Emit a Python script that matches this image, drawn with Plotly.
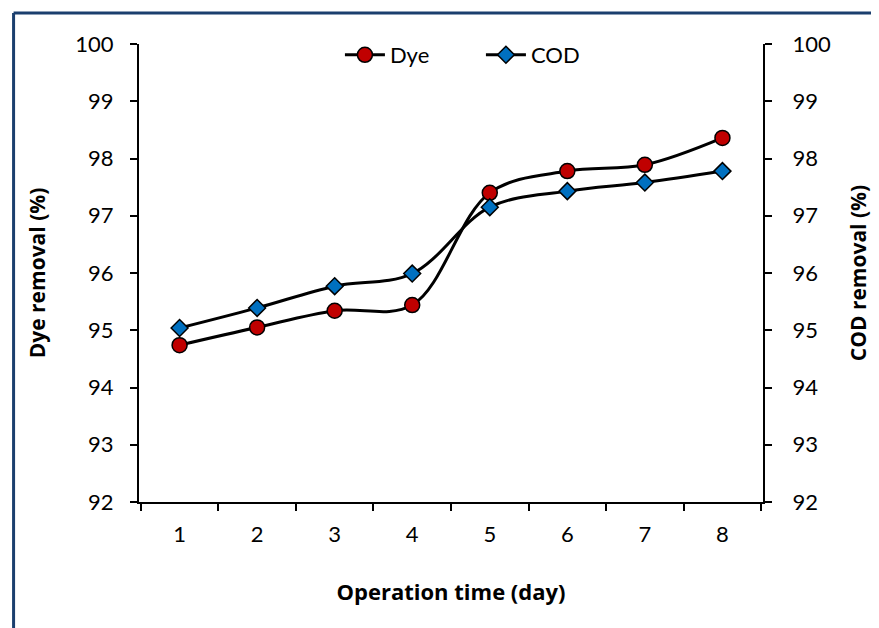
import plotly.graph_objects as go

days = ["1", "2", "3", "4", "5", "6", "7", "8"]
dye_removal = [94.74, 95.05, 95.34, 95.44, 97.40, 97.78, 97.89, 98.36]
cod_removal = [95.04, 95.39, 95.77, 95.99, 97.15, 97.43, 97.58, 97.78]
y_ticks = [92, 93, 94, 95, 96, 97, 98, 99, 100]

FONT = "Lato"
TFONT = "Open Sans"
fig = go.Figure()
fig.add_trace(go.Scatter(
    x=days, y=dye_removal, name="Dye", mode="lines+markers",
    line=dict(color="black", width=3, shape="spline", smoothing=1.0),
    marker=dict(symbol="circle", size=15, color="#C00000", line=dict(color="black", width=1.5)),
    yaxis="y"))
fig.add_trace(go.Scatter(
    x=days, y=cod_removal, name="COD", mode="lines+markers",
    line=dict(color="black", width=3, shape="spline", smoothing=1.0),
    marker=dict(symbol="diamond", size=13, color="#0070C0", line=dict(color="black", width=1.5)),
    yaxis="y2"))

axis_common = dict(range=[92, 100], tickvals=y_ticks, showgrid=False, zeroline=False,
                   showline=True, linecolor="black", linewidth=2, ticks="outside",
                   ticklen=7, tickwidth=1.5, tickcolor="black",
                   tickfont=dict(family=FONT, size=22, color="black"))

fig.update_layout(
    width=871, height=620,
    margin=dict(l=131, r=113, t=36, b=126),
    paper_bgcolor="white", plot_bgcolor="white",
    showlegend=True,
    legend=dict(orientation="h", x=0.322, xanchor="left", y=0.976, yanchor="middle",
                itemwidth=40, entrywidth=86, font=dict(family=FONT, size=22, color="black"),
                bgcolor="rgba(0,0,0,0)"),
    xaxis=dict(type="category", tickson="boundaries", showgrid=False, zeroline=False,
               showline=True, linecolor="black", linewidth=2, ticks="outside", ticklen=7,
               tickwidth=1.5, tickcolor="black", ticklabelstandoff=12,
               tickfont=dict(family=FONT, size=22, color="black"),
               title=dict(text="<b>Operation time (day)</b>", standoff=38,
                          font=dict(family=TFONT, size=22, color="black"))),
    yaxis=dict(**axis_common, side="left", ticklabelstandoff=12,
               title=dict(text="<b>Dye removal (%)</b>", standoff=24,
                          font=dict(family=TFONT, size=21, color="black"))),
    yaxis2=dict(**axis_common, side="right", overlaying="y", ticklabelstandoff=16,
                title=dict(text="<b>COD removal (%)</b>", standoff=21,
                           font=dict(family=TFONT, size=21, color="black"))),
    shapes=[
        dict(type="line", xref="paper", yref="paper", x0=-0.201, x1=1.3, y0=1.0677, y1=1.0677,
             line=dict(color="#1B3F6E", width=3)),
        dict(type="line", xref="paper", yref="paper", x0=-0.201, x1=-0.201, y0=1.0677, y1=-0.4,
             line=dict(color="#1B3F6E", width=3)),
    ],
)

fig.write_html("out.html")
